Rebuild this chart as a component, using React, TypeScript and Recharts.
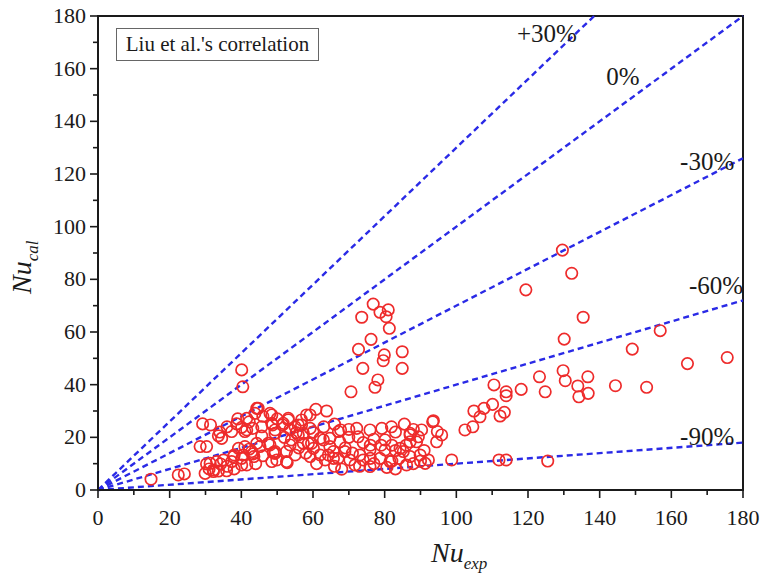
import React from 'react';
import { ScatterChart, Scatter, XAxis, YAxis, ReferenceLine, ReferenceDot, ReferenceArea, Label } from 'recharts';

// Nu_exp / Nu_cal pairs
const nuExp = [
  129.6, 132.2, 119.4, 135.4, 130.1, 156.9, 149.1, 175.6, 164.5, 129.8, 123.2, 130.4, 136.7, 144.4, 153.1, 133.9, 134.2, 136.8,
  110.5, 113.9, 113.9, 118.1, 124.8, 110.1, 107.7, 106.6, 112.2, 113.4, 111.9, 113.9, 125.5, 104.9, 104.6, 102.4,
  93.4, 90.3, 94.7, 95.9, 94.5, 87.1, 88.9, 92.2, 98.7, 93.6,
  76.8, 81.0, 78.7, 80.4, 73.6, 81.3, 76.2, 72.7, 84.9, 79.9, 79.6, 73.9, 84.9, 78.1, 77.3, 70.6, 63.8,
  40.1, 40.4, 14.8, 22.4, 24.1,
  29.2, 31.4, 28.5, 30.3, 33.6, 29.9, 32.2, 30.3, 33.6, 35.9, 34.2, 37.3, 40.1, 38.0, 40.5, 41.0, 43.3, 44.3, 47.5,
  43.5, 48.5, 52.8, 48.9, 37.3, 38.7, 40.1, 41.5, 42.2, 44.3, 41.0, 43.2, 45.7, 45.7, 48.7, 48.5, 49.4, 51.5, 53.1,
  53.6, 55.3, 55.9, 57.3, 59.2, 60.8, 59.6, 57.3, 62.9, 62.0, 64.3, 64.7, 67.1, 53.6, 52.6, 49.4, 45.2, 42.2,
  44.7, 48.0, 34.5, 43.8, 41.5, 48.5, 49.4, 51.7, 53.1, 55.0, 56.8, 58.2, 55.9, 58.7, 31.3, 33.1, 35.0, 32.2,
  37.8, 40.1, 41.5, 39.2, 42.9, 48.0, 49.4, 49.9, 52.6, 55.0,
  56.8, 59.2, 67.7, 72.2, 75.9, 79.2, 81.9, 72.6, 77.0, 80.1, 67.5, 64.7, 62.0, 60.1, 65.7, 68.9, 73.1, 75.9,
  80.1, 84.3, 87.1, 89.4, 87.1, 85.2, 87.1, 89.9, 59.2, 63.4, 65.7, 70.3, 74.0, 78.7, 81.5, 68.0, 71.7, 75.9,
  80.6, 86.1, 91.3, 83.0, 85.5, 70.0, 69.0, 82.0, 76.0, 91.0, 84.0, 77.0, 73.0, 83.0, 66.0,
  34.0, 36.0, 39.0, 46.0, 50.0, 52.0, 54.0, 56.0, 58.0, 46.0, 44.0, 38.0, 36.0, 31.0, 60.0,
  63.0, 66.0, 70.0, 74.0, 79.0, 83.0, 86.0, 88.0, 71.0, 76.0, 82.0, 88.0, 90.0, 67.0, 61.0,
];
const nuCal = [
  91.1, 82.3, 76.0, 65.6, 57.3, 60.5, 53.5, 50.3, 48.0, 45.3, 43.0, 41.5, 43.0, 39.6, 39.0, 39.5, 35.4, 36.7,
  39.9, 37.3, 35.8, 38.2, 37.3, 32.5, 31.0, 27.8, 28.1, 29.5, 11.4, 11.4, 11.0, 30.0, 24.0, 22.8,
  25.9, 22.8, 22.2, 20.9, 18.3, 20.9, 18.3, 11.4, 11.4, 26.3,
  70.6, 68.4, 67.5, 65.8, 65.6, 61.4, 57.2, 53.4, 52.5, 51.3, 49.1, 46.2, 46.2, 41.8, 39.0, 37.3, 30.0,
  45.6, 39.2, 4.1, 5.7, 6.1,
  25.1, 24.7, 16.5, 16.5, 20.6, 6.3, 7.0, 9.9, 7.2, 7.3, 9.9, 10.8, 9.5, 13.3, 13.3, 16.5, 13.7, 17.7, 17.7,
  12.7, 10.8, 10.4, 14.2, 22.2, 25.1, 23.8, 27.2, 25.9, 31.0, 22.2, 23.4, 24.0, 20.5, 24.7, 28.5, 21.5, 24.7, 26.6,
  23.0, 21.8, 24.7, 21.5, 28.5, 30.6, 17.7, 17.7, 19.0, 13.3, 13.3, 16.5, 22.2, 17.1, 14.6, 13.9, 16.5, 15.5,
  31.0, 29.1, 19.6, 29.1, 22.8, 25.3, 22.8, 25.3, 27.2, 24.0, 26.6, 28.5, 20.9, 17.7, 10.1, 10.8, 11.4, 7.6,
  12.7, 12.0, 9.5, 15.8, 14.6, 17.1, 14.6, 11.4, 10.8, 13.3,
  24.7, 23.4, 22.8, 23.4, 22.8, 23.4, 24.0, 20.2, 19.3, 19.0, 18.3, 19.6, 19.6, 15.8, 14.6, 14.6, 13.3, 15.2,
  15.2, 15.8, 18.3, 20.2, 21.5, 14.6, 12.7, 13.3, 12.7, 11.4, 12.0, 11.4, 11.4, 12.0, 10.8, 7.9, 9.5, 8.9,
  8.6, 9.5, 10.1, 22.0, 25.0, 20.0, 16.0, 17.0, 17.0, 15.0, 12.0, 10.0, 9.0, 8.0, 9.0,
  22.0, 24.0, 27.0, 28.0, 27.0, 20.0, 19.0, 16.0, 14.0, 13.0, 10.0, 8.0, 9.0, 8.0, 22.0,
  24.0, 25.0, 23.0, 18.0, 17.0, 15.0, 17.0, 23.0, 14.0, 12.0, 11.0, 10.0, 11.0, 12.0, 10.0,
];

const axisTicks = [0, 10, 20, 30, 40, 50, 60, 70, 80, 90, 100, 110, 120, 130, 140, 150, 160, 170, 180];

// deviation lines y = k * x
const lineSlopes = [1.3, 1.0, 0.7, 0.4, 0.1];
const lineNames = ['+30%', '0%', '-30%', '-60%', '-90%'];
const nameX = [125.3, 146.5, 170, 172.5, 170];
const nameY = [173.6, 157.2, 125, 77.9, 20.5];

const points = nuExp.map((x, i) => ({ x, y: nuCal[i] }));

const FONT = '"Liberation Serif", "DejaVu Serif", serif';
const INK = '#1a1a1a';
const BLUE = '#2a2ae6';
const RED = '#ee2b2b';

const XTick = ({ x, y, payload }: any) => {
  const major = payload.value % 20 === 0;
  return (
    <g>
      <line x1={x} y1={y} x2={x} y2={y + (major ? 8 : 5)} stroke={INK} strokeWidth={1.6} />
      {major && (
        <text x={x} y={y + 35} textAnchor="middle" fontSize={22} style={{ fontFamily: FONT }} fill={INK}>
          {payload.value}
        </text>
      )}
    </g>
  );
};

const YTick = ({ x, y, payload }: any) => {
  const major = payload.value % 20 === 0;
  return (
    <g>
      <line x1={x} y1={y} x2={x - (major ? 8 : 5)} y2={y} stroke={INK} strokeWidth={1.6} />
      {major && (
        <text x={x - 12} y={y + 7} textAnchor="end" fontSize={22} style={{ fontFamily: FONT }} fill={INK}>
          {payload.value}
        </text>
      )}
    </g>
  );
};

const XTitle = () => (
  <text x={431} y={562} style={{ fontFamily: FONT }} fill={INK} fontStyle="italic">
    <tspan fontSize={28}>Nu</tspan>
    <tspan fontSize={17} dy={7}>exp</tspan>
  </text>
);

const YTitle = () => (
  <text transform="translate(31, 294) rotate(-90)" style={{ fontFamily: FONT }} fill={INK} fontStyle="italic">
    <tspan fontSize={28}>Nu</tspan>
    <tspan fontSize={17} dy={7}>cal</tspan>
  </text>
);

const Ring = ({ cx, cy }: any) => (
  <circle cx={cx} cy={cy} r={5.7} fill="none" stroke={RED} strokeWidth={1.7} />
);

export default function App() {
  return (
    <div style={{ position: 'absolute', left: 0, top: 0, width: 761, height: 577, background: '#fff' }}>
      <ScatterChart width={761} height={577} margin={{ top: 16, right: 18, bottom: 0, left: 0 }}>
        <XAxis
          type="number"
          dataKey="x"
          domain={[0, 180]}
          ticks={axisTicks}
          interval={0}
          height={87}
          tickSize={0}
          tickMargin={0}
          tickLine={false}
          tick={<XTick />}
          axisLine={{ stroke: INK, strokeWidth: 2 }}
          allowDataOverflow
        >
          <Label content={<XTitle />} />
        </XAxis>
        <YAxis
          type="number"
          dataKey="y"
          domain={[0, 180]}
          ticks={axisTicks}
          interval={0}
          width={98}
          tickSize={0}
          tickMargin={0}
          tickLine={false}
          tick={<YTick />}
          axisLine={{ stroke: INK, strokeWidth: 2 }}
          allowDataOverflow
        >
          <Label content={<YTitle />} />
        </YAxis>
        <ReferenceArea x1={0} x2={180} y1={0} y2={180} fill="none" stroke={INK} strokeWidth={2} />
        {lineSlopes.map((k, i) => {
          const xEnd = Math.min(180, 180 / k);
          return (
            <ReferenceLine
              key={lineNames[i]}
              segment={[{ x: 0, y: 0 }, { x: xEnd, y: xEnd * k }]}
              stroke={BLUE}
              strokeWidth={2.4}
              strokeDasharray="6 4"
            />
          );
        })}
        <Scatter data={points} shape={<Ring />} isAnimationActive={false} />
        {lineNames.map((name, i) => (
          <ReferenceDot
            key={'lbl' + name}
            x={nameX[i]}
            y={nameY[i]}
            r={0}
            fill="none"
            stroke="none"
            label={{ value: name, position: 'center', fontSize: 25, fontFamily: FONT, fill: INK }}
          />
        ))}
      </ScatterChart>
      <div
        style={{
          position: 'absolute',
          left: 116,
          top: 28,
          width: 201,
          height: 31,
          border: '1px solid #666',
          fontFamily: FONT,
          fontSize: 21,
          color: INK,
          lineHeight: '31px',
          textAlign: 'center',
          whiteSpace: 'nowrap',
        }}
      >
        Liu et al.'s correlation
      </div>
    </div>
  );
}
